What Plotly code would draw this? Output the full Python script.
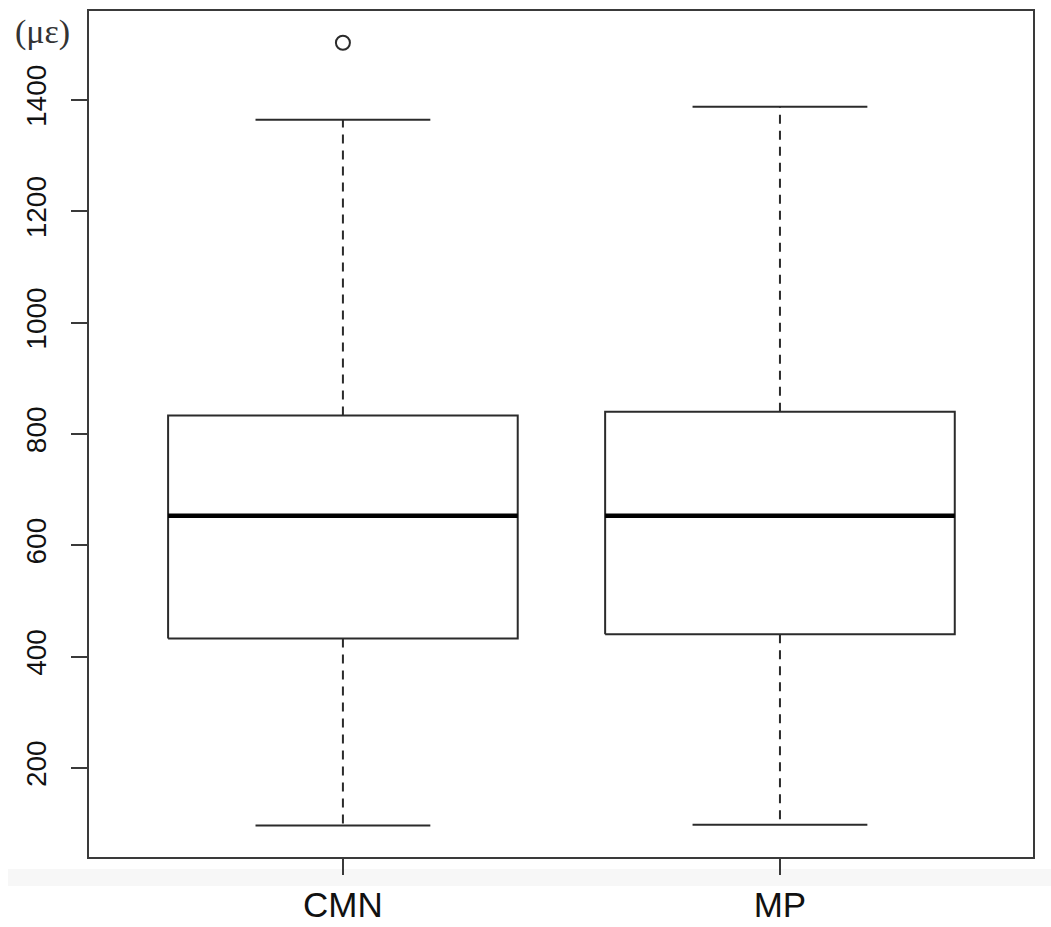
import plotly.graph_objects as go

# Summary statistics of strain (με) for each group
categories = ["CMN", "MP"]
lower_whisker = [96.7, 97.9]
q1 = [432.7, 440.0]
median = [653.0, 653.0]
q3 = [833.4, 840.0]
upper_whisker = [1364.6, 1388.0]
outliers = [[1503.0], []]

y_ticks = [200, 400, 600, 800, 1000, 1200, 1400]

LINE = "#2b2b2b"
BOX_HALF = 0.4
CAP_HALF = 0.2

fig = go.Figure()

for i, name in enumerate(categories):
    x = i + 1
    # box body
    fig.add_trace(go.Scatter(
        x=[x - BOX_HALF, x + BOX_HALF, x + BOX_HALF, x - BOX_HALF, x - BOX_HALF],
        y=[q1[i], q1[i], q3[i], q3[i], q1[i]],
        mode="lines", line=dict(color=LINE, width=2),
        hoverinfo="skip", showlegend=False))
    # median
    fig.add_trace(go.Scatter(
        x=[x - BOX_HALF, x + BOX_HALF], y=[median[i], median[i]],
        mode="lines", line=dict(color="#000000", width=4.5),
        hoverinfo="skip", showlegend=False))
    # dashed whiskers
    for a, b in ((q3[i], upper_whisker[i]), (q1[i], lower_whisker[i])):
        fig.add_trace(go.Scatter(
            x=[x, x], y=[a, b], mode="lines",
            line=dict(color=LINE, width=2, dash="9px,7px"),
            hoverinfo="skip", showlegend=False))
    # whisker caps
    for v in (upper_whisker[i], lower_whisker[i]):
        fig.add_trace(go.Scatter(
            x=[x - CAP_HALF, x + CAP_HALF], y=[v, v], mode="lines",
            line=dict(color=LINE, width=2),
            hoverinfo="skip", showlegend=False))
    # outliers
    if outliers[i]:
        fig.add_trace(go.Scatter(
            x=[x] * len(outliers[i]), y=outliers[i], mode="markers",
            marker=dict(symbol="circle-open", size=14, color=LINE,
                        line=dict(width=2, color=LINE)),
            hoverinfo="skip", showlegend=False))

fig.update_layout(
    width=1051, height=927,
    margin=dict(l=89, r=18, t=11, b=70),
    paper_bgcolor="white", plot_bgcolor="white",
    font=dict(family="Liberation Sans, Arial, sans-serif", color="#111111"),
    xaxis=dict(
        range=[0.419, 2.579], tickvals=[1, 2], ticktext=categories,
        ticks="outside", ticklen=16, tickwidth=2, tickcolor="#3a3a3a",
        tickfont=dict(size=35, color="#111111"), ticklabelstandoff=0,
        showline=True, linecolor="#3a3a3a", linewidth=2, mirror=True,
        showgrid=False, zeroline=False, fixedrange=True, automargin=False),
    yaxis=dict(
        range=[40, 1560], tickvals=y_ticks,
        ticktext=[str(v) for v in y_ticks],
        ticks="outside", ticklen=16, tickwidth=2, tickcolor="#3a3a3a",
        tickangle=-90, tickfont=dict(size=28, color="#111111"),
        ticklabelstandoff=14,
        showline=True, linecolor="#3a3a3a", linewidth=2, mirror=True,
        showgrid=False, zeroline=False, fixedrange=True, automargin=False),
    shapes=[dict(
        type="rect", xref="paper", yref="paper",
        x0=-0.0858, x1=1.02, y0=-0.0343, y1=-0.0142,
        fillcolor="#f7f7f7", line=dict(width=0), layer="below")],
    annotations=[dict(
        text="(με)", xref="paper", yref="paper",
        x=-0.0805, y=1.0, xanchor="left", yanchor="top",
        showarrow=False,
        font=dict(family="Liberation Serif, Times New Roman, serif",
                  size=34, color="#333333"))],
)

fig.write_html("out.html")
